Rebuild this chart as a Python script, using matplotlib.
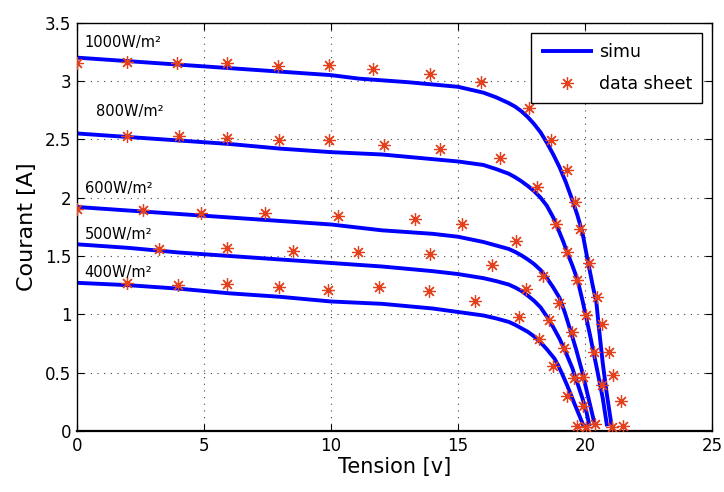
import numpy as np
import matplotlib
matplotlib.use('Agg')
import matplotlib.pyplot as plt

# simulated I-V curves
v_sim_400 = [0, 2, 4, 6, 8, 10, 12, 14, 15, 16, 16.5, 17, 17.25, 17.5, 17.75, 18, 18.25, 18.5,
             18.65, 18.8, 18.95, 19.1, 19.3, 19.5, 19.65, 19.8, 19.95]
i_sim_400 = [1.27, 1.25, 1.22, 1.18, 1.15, 1.11, 1.09, 1.05, 1.02, 0.99, 0.965, 0.935, 0.91, 0.88, 0.85, 0.81, 0.76, 0.70,
             0.66, 0.62, 0.56, 0.49, 0.39, 0.28, 0.20, 0.12, 0.04]

v_sim_500 = [0, 2, 4, 6, 8, 10, 12, 14, 15, 16, 16.5, 17, 17.25, 17.5, 17.75, 18, 18.25, 18.5,
             18.75, 19, 19.25, 19.5, 19.7, 19.9, 20.05, 20.18]
i_sim_500 = [1.60, 1.57, 1.53, 1.50, 1.47, 1.44, 1.41, 1.37, 1.345, 1.31, 1.285, 1.255, 1.23, 1.20, 1.16, 1.115, 1.06, 0.98,
             0.89, 0.79, 0.67, 0.54, 0.41, 0.28, 0.17, 0.04]

v_sim_600 = [0, 2, 4, 6, 8, 10, 12, 14, 15, 16, 16.5, 17, 17.25, 17.5, 17.75, 18, 18.25, 18.5,
             18.75, 19, 19.2, 19.4, 19.65, 19.9, 20.05, 20.15, 20.4]
i_sim_600 = [1.92, 1.89, 1.86, 1.83, 1.80, 1.77, 1.72, 1.69, 1.665, 1.62, 1.59, 1.56, 1.535, 1.505, 1.47, 1.43, 1.38, 1.31,
             1.23, 1.14, 1.02, 0.88, 0.70, 0.50, 0.36, 0.27, 0.04]

v_sim_800 = [0, 2, 4, 6, 8, 10, 12, 14, 15, 16, 16.5, 17, 17.25, 17.5, 17.75, 18, 18.25, 18.5,
             18.75, 19, 19.15, 19.3, 19.5, 19.7, 19.8, 19.9, 20.05, 20.2, 20.35, 20.5, 20.7, 20.87]
i_sim_800 = [2.55, 2.52, 2.49, 2.46, 2.42, 2.39, 2.37, 2.33, 2.31, 2.28, 2.245, 2.205, 2.175, 2.14, 2.10, 2.055, 2.00, 1.93,
             1.83, 1.70, 1.62, 1.53, 1.42, 1.30, 1.21, 1.12, 0.97, 0.82, 0.66, 0.50, 0.28, 0.04]

v_sim_1000 = [0, 2, 4, 6, 8, 10, 11.1, 13, 15, 16, 16.5, 17, 17.25, 17.5, 17.75, 18, 18.25, 18.5,
              18.75, 19, 19.25, 19.5, 19.7, 19.9, 20.1, 20.3, 20.45, 20.55, 20.7, 20.85, 21.05]
i_sim_1000 = [3.20, 3.17, 3.14, 3.11, 3.08, 3.05, 3.02, 2.99, 2.95, 2.90, 2.86, 2.81, 2.78, 2.74, 2.69, 2.63, 2.56, 2.47,
              2.37, 2.26, 2.13, 1.98, 1.85, 1.70, 1.47, 1.25, 1.10, 0.88, 0.58, 0.33, 0.04]

# data sheet points
v_ds_400 = [1.97, 3.98, 5.9, 7.96, 9.9, 11.9, 13.86, 15.67, 17.4, 18.19, 18.75, 19.3, 19.7]
i_ds_400 = [1.27, 1.25, 1.26, 1.23, 1.21, 1.23, 1.20, 1.11, 0.98, 0.79, 0.56, 0.30, 0.04]

v_ds_500 = [3.23, 5.9, 8.5, 11.06, 13.9, 16.34, 17.68, 18.58, 19.17, 19.57, 19.92, 20.04]
i_ds_500 = [1.56, 1.57, 1.54, 1.53, 1.52, 1.42, 1.22, 0.95, 0.71, 0.45, 0.21, 0.03]

v_ds_600 = [0, 2.6, 4.88, 7.4, 10.28, 13.3, 15.16, 17.28, 18.35, 18.98, 19.49, 19.92, 20.39]
i_ds_600 = [1.90, 1.89, 1.87, 1.87, 1.84, 1.82, 1.77, 1.63, 1.33, 1.10, 0.85, 0.46, 0.06]

v_ds_800 = [1.97, 4.0, 5.9, 7.96, 9.92, 12.1, 14.3, 16.65, 18.1, 18.86, 19.3, 19.7, 20.04, 20.35, 20.67, 21.06]
i_ds_800 = [2.53, 2.53, 2.51, 2.49, 2.49, 2.45, 2.42, 2.34, 2.09, 1.77, 1.53, 1.29, 0.99, 0.68, 0.39, 0.03]

v_ds_1000 = [0, 1.97, 3.94, 5.9, 7.9, 9.92, 11.65, 13.9, 15.9, 17.8, 18.66, 19.3, 19.6, 19.8, 20.16, 20.47, 20.67, 20.94, 21.1, 21.4, 21.5]
i_ds_1000 = [3.15, 3.16, 3.15, 3.15, 3.13, 3.14, 3.10, 3.06, 2.99, 2.77, 2.49, 2.24, 1.96, 1.73, 1.44, 1.15, 0.92, 0.68, 0.48, 0.26, 0.04]

labels = ['400W/m²', '500W/m²', '600W/m²', '800W/m²', '1000W/m²']
label_pos = [(0.3, 1.36), (0.3, 1.68), (0.3, 2.08), (0.75, 2.74), (0.3, 3.33)]

x_ticks = [0, 5, 10, 15, 20, 25]
x_tick_labels = ['0', '5', '10', '15', '20', '25']
y_ticks = [0, 0.5, 1, 1.5, 2, 2.5, 3, 3.5]
y_tick_labels = ['0', '0.5', '1', '1.5', '2', '2.5', '3', '3.5']

sims = [(v_sim_400, i_sim_400), (v_sim_500, i_sim_500), (v_sim_600, i_sim_600),
        (v_sim_800, i_sim_800), (v_sim_1000, i_sim_1000)]
sheets = [(v_ds_400, i_ds_400), (v_ds_500, i_ds_500), (v_ds_600, i_ds_600),
          (v_ds_800, i_ds_800), (v_ds_1000, i_ds_1000)]

fig = plt.figure(figsize=(7.24, 4.92), dpi=100)
ax = fig.add_axes([0.1064, 0.124, 0.877, 0.83])

for k, (v, i) in enumerate(sims):
    ax.plot(v, i, color='#0000ff', linewidth=2.8, solid_capstyle='butt', solid_joinstyle='round',
            label='simu' if k == 0 else None, zorder=2)
for k, (v, i) in enumerate(sheets):
    ax.plot(v, i, linestyle='none', marker=(8, 2, 0), markersize=9,
            markeredgewidth=0.9, color='#e4401c',
            label='data sheet' if k == 0 else None, zorder=3)

for txt, (x, y) in zip(labels, label_pos):
    ax.text(x, y, txt, fontsize=10.5, va='center', ha='left')

ax.set_xlim(0, 25)
ax.set_ylim(0, 3.5)
ax.set_xticks(x_ticks)
ax.set_xticklabels(x_tick_labels)
ax.set_yticks(y_ticks)
ax.set_yticklabels(y_tick_labels)
ax.tick_params(direction='in', top=True, right=True, labelsize=12, length=5, pad=4)
ax.grid(True, color='#444444', linestyle=(0, (1, 5)), linewidth=0.8)
for s in ax.spines.values():
    s.set_linewidth(1.0)
ax.spines['bottom'].set_linewidth(1.6)

ax.set_xlabel('Tension [v]', fontsize=15, labelpad=2)
ax.set_ylabel('Courant [A]', fontsize=16, labelpad=6)

leg = ax.legend(loc='upper right', fontsize=12.5, fancybox=False, framealpha=1,
                edgecolor='black', handlelength=3.0, handletextpad=0.35,
                borderaxespad=0.6, labelspacing=0.85, borderpad=0.55)
leg.get_frame().set_linewidth(1.0)

fig.savefig('out.png', dpi=100)
